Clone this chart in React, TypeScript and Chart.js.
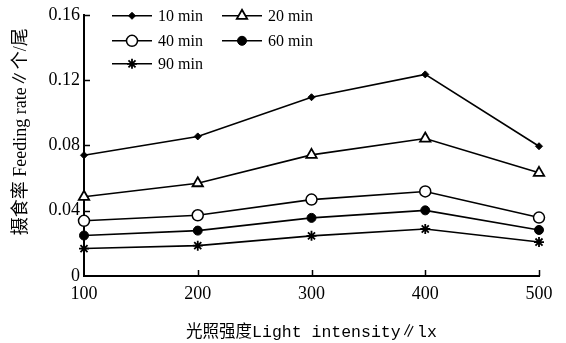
import React, { useEffect, useRef } from "react";
import { Chart, registerables } from "chart.js";
import { drawPoint } from "chart.js/helpers";

Chart.register(...registerables);

const lightIntensity = [100, 200, 300, 400, 500];
const rate10 = [0.074, 0.0855, 0.1095, 0.1235, 0.0795];
const rate20 = [0.0485, 0.0568, 0.0742, 0.0842, 0.0632];
const rate40 = [0.0338, 0.0372, 0.0468, 0.0518, 0.0358];
const rate60 = [0.0248, 0.0278, 0.0356, 0.0402, 0.0282];
const rate90 = [0.0168, 0.0186, 0.0246, 0.0288, 0.0208];
const seriesLabels = ["10 min", "20 min", "40 min", "60 min", "90 min"];
const yTicks = [0, 0.04, 0.08, 0.12, 0.16];
const yTitle = "摄食率 Feeding rate∥个/尾";
const xTitle = "光照强度Light intensity∥lx";

const SERIF = '"Liberation Serif", "Noto Sans CJK SC", serif';
const MONO = '"Liberation Mono", "Noto Sans CJK SC", monospace';

const innerTicks = {
  id: "innerTicks",
  afterDatasetsDraw(chart: any) {
    const { ctx, chartArea, scales } = chart;
    ctx.save();
    ctx.strokeStyle = "#000";
    ctx.lineWidth = 1.5;
    ctx.beginPath();
    yTicks.slice(1).forEach((v) => {
      const y = Math.round(scales.y.getPixelForValue(v)) + 0.5;
      ctx.moveTo(chartArea.left, y);
      ctx.lineTo(chartArea.left + 6, y);
    });
    lightIntensity.slice(1).forEach((v) => {
      const x = Math.round(scales.x.getPixelForValue(v)) + 0.5;
      ctx.moveTo(x, chartArea.bottom);
      ctx.lineTo(x, chartArea.bottom - 6);
    });
    ctx.stroke();
    ctx.restore();
  },
};

const yTitlePlugin = {
  id: "yTitlePlugin",
  afterDraw(chart: any) {
    const { ctx, chartArea } = chart;
    ctx.save();
    ctx.translate(chartArea.left - 63, chartArea.top + 117);
    ctx.rotate(-Math.PI / 2);
    ctx.fillStyle = "#000";
    ctx.font = "18px " + SERIF;
    ctx.textAlign = "center";
    ctx.textBaseline = "middle";
    ctx.fillText(yTitle, 0, 0);
    ctx.restore();
  },
};

const innerLegend = {
  id: "innerLegend",
  afterDraw(chart: any) {
    const { ctx, chartArea } = chart;
    const cols = [28, 138];
    const rows = [1, 26, 49];
    ctx.save();
    chart.data.datasets.forEach((ds: any, i: number) => {
      const x0 = chartArea.left + cols[i % 2];
      const y = chartArea.top + rows[Math.floor(i / 2)];
      ctx.strokeStyle = "#000";
      ctx.lineWidth = 1.5;
      ctx.beginPath();
      ctx.moveTo(x0, y);
      ctx.lineTo(x0 + 40, y);
      ctx.stroke();
      ctx.fillStyle = ds.pointBackgroundColor;
      ctx.strokeStyle = "#000";
      ctx.lineWidth = ds.pointBorderWidth;
      drawPoint(
        ctx,
        { pointStyle: ds.pointStyle, radius: ds.pointRadius, rotation: 0, borderWidth: ds.pointBorderWidth },
        x0 + 20,
        y
      );
      ctx.fillStyle = "#000";
      ctx.font = "16px " + SERIF;
      ctx.textBaseline = "middle";
      ctx.textAlign = "left";
      ctx.fillText(ds.label, x0 + 46, y + 1);
    });
    ctx.restore();
  },
};

export default function App() {
  const canvasRef = useRef<HTMLCanvasElement | null>(null);

  useEffect(() => {
    if (!canvasRef.current) return;
    const mk = (label: string, data: number[], style: string, radius: number, fill: string, bw: number) => ({
      label,
      data: lightIntensity.map((x, i) => ({ x, y: data[i] })),
      borderColor: "#000",
      borderWidth: 1.6,
      pointStyle: style,
      pointRadius: radius,
      pointBackgroundColor: fill,
      pointBorderColor: "#000",
      pointBorderWidth: bw,
      fill: false,
      tension: 0,
      clip: false,
    });
    const chart = new Chart(canvasRef.current, {
      type: "line",
      data: {
        datasets: [
          mk(seriesLabels[0], rate10, "rectRot", 3.5, "#000", 1),
          mk(seriesLabels[1], rate20, "triangle", 6, "#fff", 1.8),
          mk(seriesLabels[2], rate40, "circle", 5.5, "#fff", 1.5),
          mk(seriesLabels[3], rate60, "circle", 4.5, "#000", 1),
          mk(seriesLabels[4], rate90, "star", 5, "#000", 1.8),
        ],
      },
      options: {
        animation: false,
        responsive: false,
        maintainAspectRatio: false,
        layout: { padding: { left: 0, top: 14, right: 27, bottom: 0 } },
        plugins: { legend: { display: false }, tooltip: { enabled: false } },
        scales: {
          x: {
            type: "linear",
            min: 100,
            max: 500,
            afterFit: (s: any) => { s.height = 67; },
            afterBuildTicks: (s: any) => { s.ticks = lightIntensity.map((v) => ({ value: v })); },
            grid: { display: false, drawTicks: false },
            border: { display: true, color: "#000", width: 2 },
            ticks: { color: "#000", font: { family: SERIF, size: 18 }, padding: 7, maxRotation: 0 },
            title: {
              display: true,
              text: xTitle,
              color: "#000",
              font: { family: MONO, size: 16.5 },
              padding: { top: 10, bottom: 0 },
            },
          },
          y: {
            type: "linear",
            min: 0,
            max: 0.16,
            afterFit: (s: any) => { s.width = 84; },
            afterBuildTicks: (s: any) => { s.ticks = yTicks.map((v) => ({ value: v })); },
            grid: { display: false, drawTicks: false },
            border: { display: true, color: "#000", width: 2 },
            ticks: {
              color: "#000",
              font: { family: SERIF, size: 18 },
              padding: 4,
              callback: (v: any) => (v === 0 ? "0" : Number(v).toFixed(2)),
            },
            title: { display: false },
          },
        },
      },
      plugins: [innerTicks, innerLegend, yTitlePlugin],
    } as any);
    return () => chart.destroy();
  }, []);

  return (
    <div style={{ position: "absolute", left: 0, top: 0, width: 566, height: 343, background: "#fff" }}>
      <canvas ref={canvasRef} width={566} height={343} style={{ width: 566, height: 343 }} />
    </div>
  );
}
